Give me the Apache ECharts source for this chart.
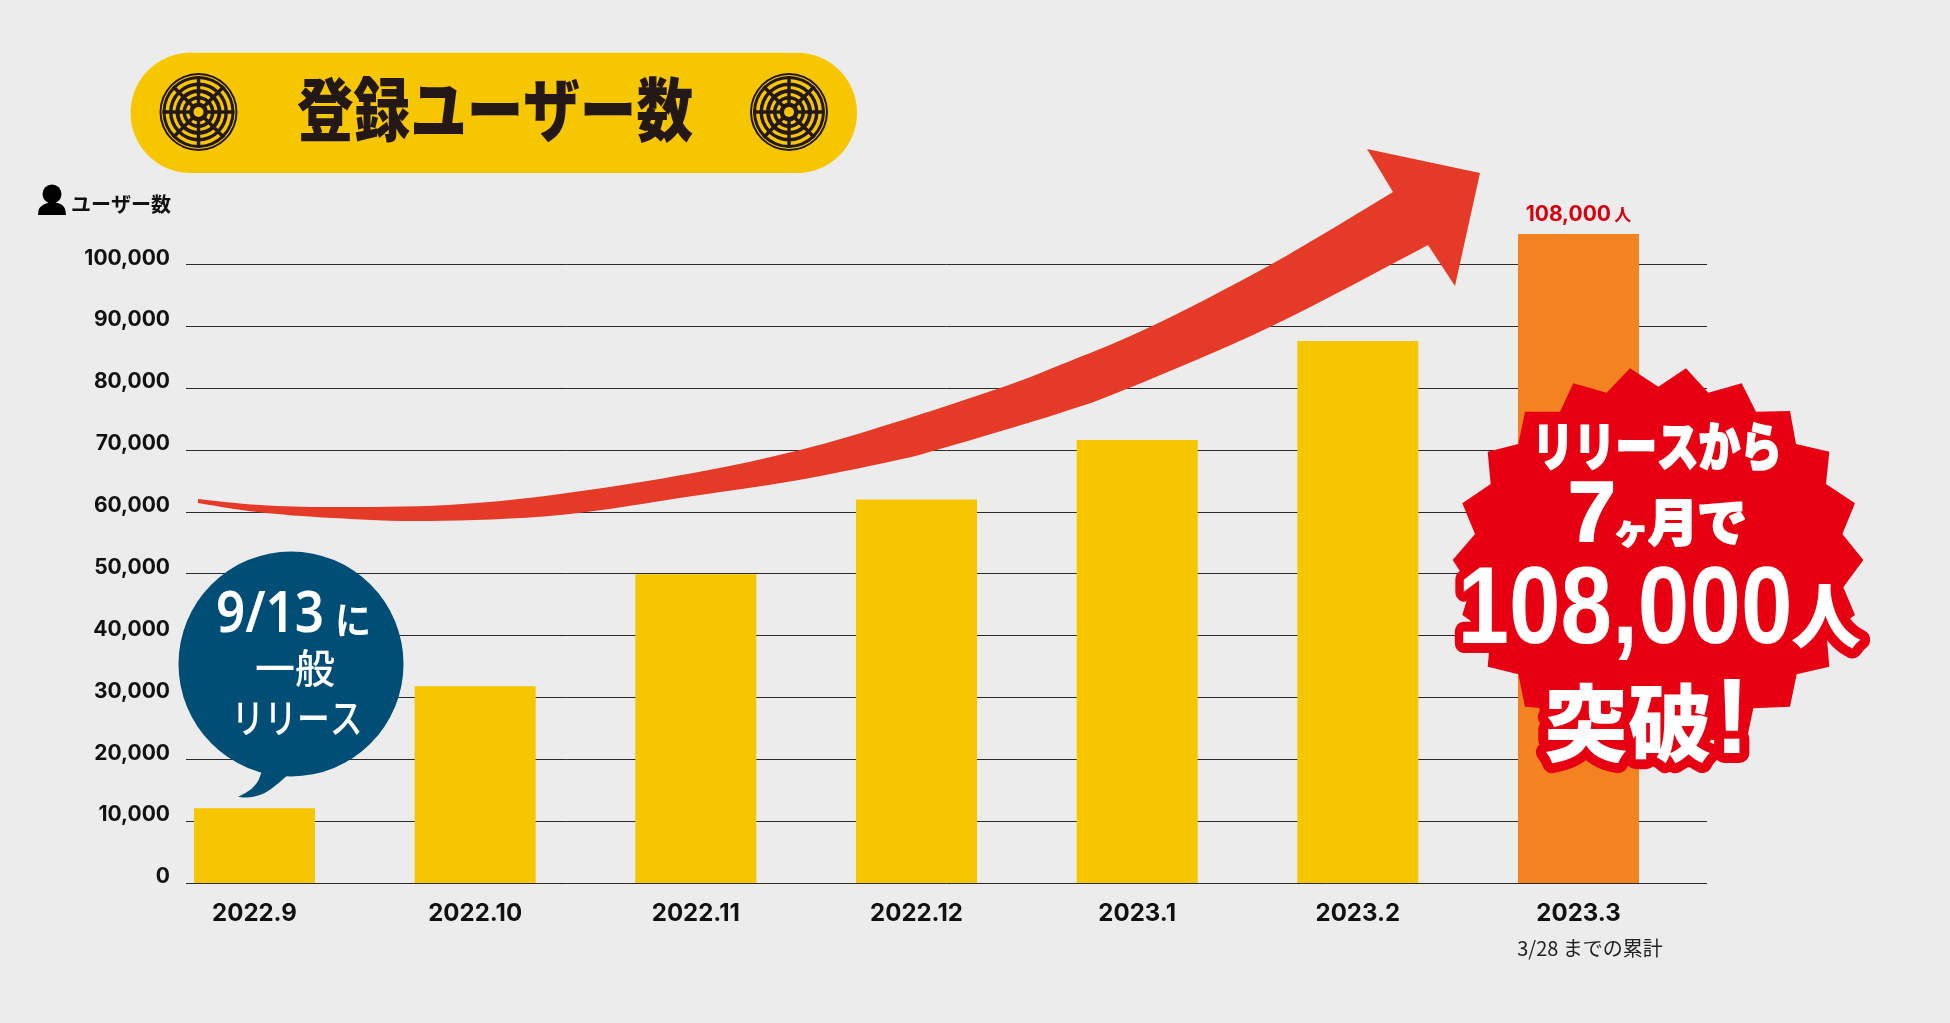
<!DOCTYPE html>
<html><head><meta charset="utf-8">
<style>html,body{margin:0;padding:0;background:#ececec}#c{width:1950px;height:1023px}</style>
<script src="https://cdn.jsdelivr.net/npm/echarts@6/dist/echarts.min.js"></script>
</head><body><div id="c"></div>
<script>
const categories = ['2022.9','2022.10','2022.11','2022.12','2023.1','2023.2','2023.3'];
const users = [12100,31800,49900,62000,71600,87600,104900];
const yTicks = {min:0,max:100000,interval:10000};
const topLabel = '108,000';
const colors = {bg:'#ececec',bar:'#f6c700',last:'#f58220',grid:'#2a2a2a',ink:'#231815',arrow:'#e63a28',star:'#e60012',bubble:'#004e75'};
const latin = 'Inter, "Noto Sans CJK JP", sans-serif';
const cjk = '"Noto Sans CJK JP", sans-serif';

// rounded outlines on the stroked headline text
const nativeStrokeText = CanvasRenderingContext2D.prototype.strokeText;
CanvasRenderingContext2D.prototype.strokeText = function(){
  const j = this.lineJoin; this.lineJoin = 'round';
  nativeStrokeText.apply(this, arguments);
  this.lineJoin = j;
};

function catmull(pts, n){
  const out=[];
  for(let i=0;i<pts.length-1;i++){
    const p0=pts[Math.max(i-1,0)],p1=pts[i],p2=pts[i+1],p3=pts[Math.min(i+2,pts.length-1)];
    for(let k=0;k<n;k++){
      const t=k/n,t2=t*t,t3=t2*t;
      out.push([0,1].map(j=>0.5*(2*p1[j]+(p2[j]-p0[j])*t+(2*p0[j]-5*p1[j]+4*p2[j]-p3[j])*t2+(3*p1[j]-p0[j]-3*p2[j]+p3[j])*t3)));
    }
  }
  out.push(pts[pts.length-1]);
  return out;
}
const arrowUpper=[[198,499],[260,505],[333,507],[448,505],[560,494],[693,473],[800,450],[893,423],[1000,388],[1060,365],[1150,327],[1270,265],[1393,192]];
const arrowLower=[[198,503],[257,512],[333,518],[429,521],[560,515],[693,496],[793,481],[893,461],[940,449],[1060,413],[1129,388],[1272,326],[1428,245]];
const arrowHead=[[1367,149],[1480,173],[1455,286]];
const arrowPts=[...catmull(arrowUpper,8),...arrowHead,...catmull(arrowLower,8).reverse()];

const starZoom=[[690,85],[775,140],[858,85],[925,158],[1025,130],[1068,215],[1170,213],[1188,312],[1288,335],[1278,432],[1365,490],[1327,582],[1390,660],[1330,742],[1365,825],[1280,885],[1288,980],[1190,1003],[1170,1100],[1060,1105],[1040,1200],[450,1200],[430,1105],[375,1100],[355,1003],[263,980],[272,885],[187,825],[212,742],[158,660],[225,582],[187,490],[272,432],[263,335],[355,312],[375,215],[480,215],[520,130],[620,158]];
const starPts=starZoom.map(p=>[1400+p[0]/3,340+p[1]/3]);

const bubble={cx:291,cy:664,r:112.5};
const bubbleTail=[...catmull([[262,770],[258,781],[250,790],[238,797]],6),...catmull([[238,797],[252,797],[268,791],[288,775]],6)];

function t(text,x,y,font,fill,extra,scaleX){
  return {type:'text',x,y,z:20,scaleX:scaleX||1,silent:true,style:Object.assign({text,font,fill,textAlign:'center',textVerticalAlign:'middle'},extra||{})};
}
const redOut={stroke:colors.star,lineWidth:20};
const whiteBold={stroke:'#fff',lineWidth:2};
const heavy='"Noto Sans CJK JP", sans-serif';

const graphics=[
  {type:'rect',z:5,silent:true,shape:{x:130.6,y:52.7,width:726.4,height:120.3,r:60},style:{fill:colors.bar}},
  t('登録ユーザー数',495,110,'900 69px '+heavy,colors.ink,{},0.82),
  {type:'polygon',z:10,silent:true,shape:{points:arrowPts},style:{fill:colors.arrow}},
  {type:'circle',z:10,silent:true,shape:{cx:bubble.cx,cy:bubble.cy,r:bubble.r},style:{fill:colors.bubble}},
  {type:'polygon',z:10,silent:true,shape:{points:bubbleTail},style:{fill:colors.bubble}},
  t('9/13',270,615,'600 58px "Noto Sans", sans-serif','#fff',{},0.88),
  t('に',353,620,'700 38px '+cjk,'#fff',{},0.95),
  t('一般',295,668,'500 40px '+cjk,'#fff'),
  t('リリース',297,718,'500 40px '+cjk,'#fff',{},0.82),
  {type:'polygon',z:12,silent:true,shape:{points:starPts},style:{fill:colors.star}},
  t('リリースから',1657,446,'900 52px '+heavy,'#fff',whiteBold,0.8),
  t('7',1592,517,'700 86px "Liberation Sans", sans-serif','#fff',whiteBold),
  t('ヶ',1631,530,'900 34px '+heavy,'#fff',whiteBold),
  t('月',1673,522,'900 50px '+heavy,'#fff',whiteBold),
  t('で',1722,522,'900 50px '+heavy,'#fff',whiteBold),
  t('108,000',1625,613,'700 109px "Liberation Sans", sans-serif','#fff',redOut,0.85),
  t('人',1826,616,'900 70px '+heavy,'#fff',redOut),
  t('突破',1628,723,'900 84px '+heavy,'#fff',redOut),
  t('!',1732,723,'700 108px "Liberation Sans", sans-serif','#fff',redOut),
  {type:'circle',z:10,silent:true,shape:{cx:52,cy:194,r:9.5},style:{fill:'#000'}},
  {type:'polygon',z:10,silent:true,shape:{points:catmull([[38,215],[39,209],[43,205],[48,203],[52,203],[57,203],[62,205],[65,209],[66,215]],4)},style:{fill:'#000'}},
  {type:'text',x:71,y:204,z:10,silent:true,style:{text:'ユーザー数',font:'700 20px '+cjk,fill:'#111',textAlign:'left',textVerticalAlign:'middle'}},
  {type:'text',x:1590,y:948,z:10,silent:true,style:{text:'3/28 までの累計',font:'400 20px '+cjk,fill:'#222',textAlign:'center',textVerticalAlign:'middle'}}
];
[[198.5,112],[789,112]].forEach(([cx,cy])=>{
  graphics.push({type:'circle',z:6,silent:true,shape:{cx,cy,r:39},style:{fill:colors.ink}});
  graphics.push({type:'ring',z:7,silent:true,shape:{cx,cy,r:37,r0:36},style:{fill:colors.bar}});
  [[33,29.5],[26,23],[19,16],[12.5,9.5]].forEach(([r,r0])=>graphics.push({type:'ring',z:7,silent:true,shape:{cx,cy,r,r0},style:{fill:colors.bar}}));
  for(let a=0;a<8;a++){
    const ang=a*Math.PI/4;
    graphics.push({type:'line',z:8,silent:true,shape:{x1:cx+7*Math.cos(ang),y1:cy+7*Math.sin(ang),x2:cx+36*Math.cos(ang),y2:cy+36*Math.sin(ang)},style:{stroke:colors.ink,lineWidth:3.5}});
  }
  graphics.push({type:'circle',z:9,silent:true,shape:{cx,cy,r:5},style:{fill:colors.bar}});
});

const chart=echarts.init(document.getElementById('c'),null,{renderer:'canvas'});
chart.setOption({
  animation:false,
  backgroundColor:colors.bg,
  grid:[
    {left:186,top:264.3,width:1521,height:618.7},
    {left:144.17,top:202.4,width:1544.67,height:680.6}
  ],
  xAxis:[
    {gridIndex:0,type:'category',data:categories,show:false},
    {gridIndex:1,type:'category',data:categories,axisLine:{show:false},axisTick:{show:false},
     axisLabel:{margin:19,interval:0,fontFamily:latin,fontSize:24,fontWeight:700,color:'#111'}}
  ],
  yAxis:[
    {gridIndex:0,type:'value',min:yTicks.min,max:yTicks.max,interval:yTicks.interval,
     axisLine:{show:false},axisTick:{show:false},
     splitLine:{show:true,lineStyle:{color:colors.grid,width:1,type:'solid'}},
     axisLabel:{margin:16,fontFamily:latin,fontSize:21,fontWeight:700,color:'#111',verticalAlign:'bottom',lineHeight:12,
       formatter:v=>v.toLocaleString('en-US')}},
    {gridIndex:1,type:'value',min:0,max:110000,interval:10000,show:false,splitLine:{show:false}}
  ],
  series:[{
    type:'bar',xAxisIndex:1,yAxisIndex:1,barWidth:121,
    data:users.map((v,i)=>i===users.length-1?{value:v,itemStyle:{color:colors.last},
      label:{show:true,position:'top',distance:9,formatter:'{a|'+topLabel+'} {b|人}',
        rich:{a:{fontFamily:latin,fontSize:21,fontWeight:700,color:'#d7000f'},b:{fontFamily:cjk,fontSize:17,fontWeight:700,color:'#d7000f'}}}}:v),
    itemStyle:{color:colors.bar}
  }],
  graphic:{elements:graphics}
});
</script></body></html>
